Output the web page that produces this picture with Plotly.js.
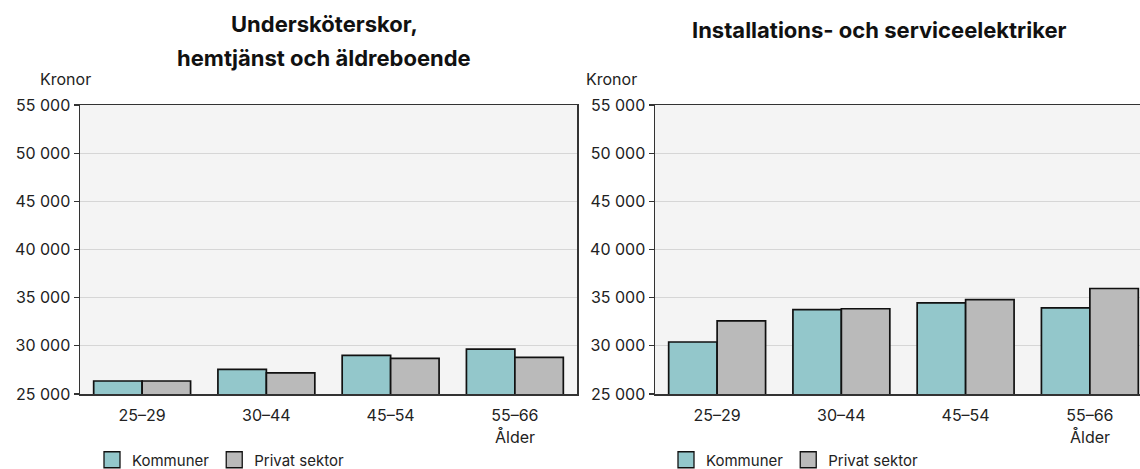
<!DOCTYPE html>
<html>
<head>
<meta charset="utf-8">
<script src="https://cdn.plot.ly/plotly-3.0.1.min.js"></script>
<style>
html, body { margin: 0; padding: 0; overflow: hidden; background: #fff; }
#chart { width: 1160px; height: 469px; }
</style>
</head>
<body>
<div id="chart"></div>
<script>
const ages = ['25–29', '30–44', '45–54', '55–66'];
const seriesNames = ['Kommuner', 'Privat sektor'];
const careKommuner = [26350, 27550, 29000, 29650];
const carePrivat = [26350, 27200, 28700, 28800];
const elecKommuner = [30400, 33750, 34450, 33950];
const elecPrivat = [32600, 33850, 34800, 35950];
const titleLeft = ['Undersköterskor,', 'hemtjänst och äldreboende'];
const titleRight = 'Installations- och serviceelektriker';
const yUnit = 'Kronor';
const xUnit = 'Ålder';

const colK = '#93c7cb';
const colP = '#bababa';
const FONT = 'Inter, "Noto Sans", sans-serif';
const W = 1160;

function bar(x, y, name, color, xa, ya) {
  return {
    type: 'bar', x: x, y: y, name: name, xaxis: xa, yaxis: ya,
    marker: { color: color, line: { color: '#111', width: 1.7 } },
    showlegend: false, hoverinfo: 'x+y'
  };
}
function proxy(name, color, xa, ya, lg) {
  return {
    type: 'scatter', mode: 'markers', x: [null], y: [null], name: name,
    xaxis: xa, yaxis: ya, legend: lg,
    marker: { symbol: 'square', size: 16, color: color, line: { color: '#111', width: 1.3 } }
  };
}

const traces = [
  bar(ages, careKommuner, seriesNames[0], colK, 'x', 'y'),
  bar(ages, carePrivat, seriesNames[1], colP, 'x', 'y'),
  bar(ages, elecKommuner, seriesNames[0], colK, 'x2', 'y2'),
  bar(ages, elecPrivat, seriesNames[1], colP, 'x2', 'y2'),
  proxy(seriesNames[0], colK, 'x', 'y', 'legend'),
  proxy(seriesNames[1], colP, 'x', 'y', 'legend'),
  proxy(seriesNames[0], colK, 'x2', 'y2', 'legend2'),
  proxy(seriesNames[1], colP, 'x2', 'y2', 'legend2')
];

const yax = {
  range: [25000, 55000], dtick: 5000, tick0: 25000, tickformat: ',d',
  showline: true, linecolor: '#333', linewidth: 1.5, mirror: true,
  ticks: 'outside', ticklen: 5, tickcolor: '#333', tickwidth: 1.3,
  showgrid: true, gridcolor: '#d6d6d6', gridwidth: 1, zeroline: false,
  tickfont: { family: FONT, size: 16, color: '#222' }, fixedrange: true,
  automargin: false
};
const xax = {
  type: 'category', showline: true, linecolor: '#333', linewidth: 1.5, mirror: true,
  ticks: '', showgrid: false, tickfont: { family: FONT, size: 16, color: '#222' },
  ticklabelstandoff: 6, fixedrange: true, automargin: false
};

const px = v => v / W;
const py = p => (394 - p) / 289; // pixel y -> paper y
const legendBase = {
  orientation: 'h', yanchor: 'middle', y: py(460), xanchor: 'left',
  font: { family: FONT, size: 15, color: '#222' }, bgcolor: 'rgba(0,0,0,0)',
  itemwidth: 30, tracegroupgap: 0
};

const ann = [];
function txt(x, y, text, opts) {
  ann.push(Object.assign({
    xref: 'paper', yref: 'paper', x: x, y: y, text: text, showarrow: false,
    xanchor: 'center', yanchor: 'middle',
    font: { family: FONT, size: 16, color: '#222' }
  }, opts || {}));
}
const titleFont = { family: FONT, size: 22, color: '#111' };
txt(px(324), py(24), '<b>' + titleLeft[0] + '</b>', { font: titleFont });
txt(px(324), py(58), '<b>' + titleLeft[1] + '</b>', { font: titleFont });
txt(px(879), py(30), '<b>' + titleRight + '</b>', { font: titleFont });
txt(px(38), py(79), yUnit, { xanchor: 'left' });
txt(px(584), py(79), yUnit, { xanchor: 'left' });
ann.push({ xref: 'x', yref: 'paper', x: ages[3], y: py(437), text: xUnit, showarrow: false,
  xanchor: 'center', yanchor: 'middle', font: { family: FONT, size: 16, color: '#222' } });
ann.push({ xref: 'x2', yref: 'paper', x: ages[3], y: py(437), text: xUnit, showarrow: false,
  xanchor: 'center', yanchor: 'middle', font: { family: FONT, size: 16, color: '#222' } });

const layout = {
  width: W, height: 469,
  margin: { l: 0, r: 0, t: 105, b: 75, autoexpand: false },
  paper_bgcolor: '#fff', plot_bgcolor: '#f4f4f4',
  separators: ', ',
  barmode: 'group', bargap: 0.22, bargroupgap: 0,
  font: { family: FONT, size: 16, color: '#222' },
  xaxis: Object.assign({}, xax, { domain: [px(80), px(577)], anchor: 'y' }),
  yaxis: Object.assign({}, yax, { domain: [0, 1], anchor: 'x' }),
  xaxis2: Object.assign({}, xax, { domain: [px(655), px(1152)], anchor: 'y2' }),
  yaxis2: Object.assign({}, yax, { domain: [0, 1], anchor: 'x2' }),
  legend: Object.assign({}, legendBase, { x: px(92) }),
  legend2: Object.assign({}, legendBase, { x: px(666) }),
  annotations: ann,
  showlegend: true
};

Plotly.newPlot('chart', traces, layout, { displayModeBar: false, staticPlot: true });
</script>
</body>
</html>
